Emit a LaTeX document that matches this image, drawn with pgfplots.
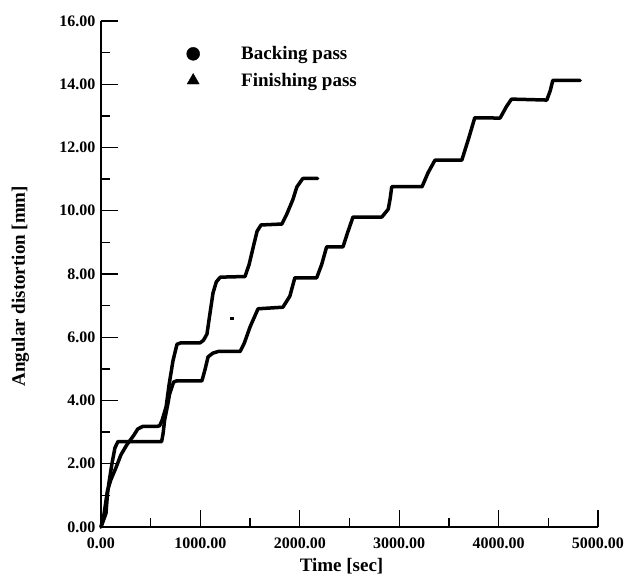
\documentclass[border=0pt]{standalone}
\usepackage{pgfplots}
\pgfplotsset{compat=1.18}
\usepackage{fontspec}
\setmainfont{Liberation Serif}
\begin{document}
\begin{tikzpicture}
\path[use as bounding box] (-101pt,-50pt) rectangle (523pt,527pt);
\begin{axis}[
  at={(0,0)}, anchor=south west,
  scale only axis, width=497pt, height=506pt,
  xmin=0, xmax=5000, ymin=0, ymax=16,
  axis lines=left, axis line style={-, line width=1.6pt},
  xtick={0,1000,2000,3000,4000,5000},
  xticklabels={0.00,1000.00,2000.00,3000.00,4000.00,5000.00},
  ytick={0,2,4,6,8,10,12,14,16},
  yticklabels={0.00,2.00,4.00,6.00,8.00,10.00,12.00,14.00,16.00},
  minor xtick={500,1500,2500,3500,4500},
  minor ytick={1,3,5,7,9,11,13,15},
  tick align=inside, major tick length=17pt, minor tick length=9pt,
  every tick/.style={black, line width=1.3pt},
  tick label style={font=\bfseries\fontsize{16}{16}\selectfont},
  xticklabel style={yshift=-7pt},
  yticklabel style={xshift=-2pt},
  xlabel={Time [sec]}, ylabel={Angular distortion [mm]},
  label style={font=\bfseries\fontsize{19}{19}\selectfont},
  xlabel style={at={(axis description cs:0.484,-0.077)}, anchor=center},
  ylabel style={at={(axis description cs:-0.162,0.476)}, anchor=center},
  clip=false,
  legend cell align=left,
  legend style={draw=none, fill=none, at={(axis description cs:0.171,0.950)}, anchor=north west,
    font=\bfseries\fontsize{19}{19}\selectfont, row sep=12pt, inner sep=0pt, nodes={inner sep=0pt}},
  legend image code/.code={\path[draw=none,fill=none] (-7pt,-5pt) rectangle (48pt,5pt); \draw[#1] plot coordinates {(0pt,0pt)};},
]
% Backing pass
\addplot[forget plot, black, line width=3.5pt, line join=round, line cap=round] coordinates {
(0,0) (30,0.4) (65,1.15) (100,1.5) (150,1.87) (200,2.28) (260,2.6) (330,2.9) (370,3.1)
(420,3.18) (560,3.18) (590,3.2) (615,3.38) (655,3.8) (685,4.5) (725,5.27) (765,5.78)
(800,5.82) (995,5.82) (1030,5.9) (1066,6.1) (1097,6.77) (1127,7.4) (1160,7.75) (1200,7.9)
(1449,7.92) (1490,8.3) (1530,8.83) (1570,9.35) (1610,9.55) (1820,9.58) (1870,9.9)
(1930,10.35) (1970,10.75) (2030,11.02) (2180,11.02)};
% Finishing pass
\addplot[forget plot, black, line width=3.5pt, line join=round, line cap=round] coordinates {
(0,0) (50,0.43) (66,1.07) (80,1.4) (110,2.0) (140,2.5) (170,2.7) (610,2.7) (625,2.96)
(640,3.38) (670,3.85) (690,4.2) (730,4.58) (760,4.62) (1015,4.62) (1046,4.97) (1077,5.38)
(1127,5.5) (1180,5.55) (1400,5.55) (1440,5.8) (1500,6.33) (1580,6.9) (1830,6.95)
(1900,7.3) (1950,7.88) (2170,7.88) (2220,8.3) (2270,8.86) (2435,8.86) (2480,9.3)
(2535,9.8) (2825,9.8) (2890,10.05) (2910,10.4) (2925,10.76) (3230,10.76) (3290,11.2)
(3360,11.6) (3630,11.6) (3700,12.3) (3760,12.94) (4015,12.93) (4080,13.3) (4130,13.53)
(4485,13.5) (4520,13.8) (4545,14.12) (4820,14.12)};
% stray point
\addplot[forget plot, black, line width=2.5pt] coordinates {(1300,6.6) (1340,6.6)};
\addlegendimage{only marks, mark=*, mark size=6.5pt, black}
\addlegendentry{Backing pass}
\addlegendimage{only marks, mark=triangle*, mark size=7pt, black}
\addlegendentry{Finishing pass}
\end{axis}
\end{tikzpicture}
\end{document}
